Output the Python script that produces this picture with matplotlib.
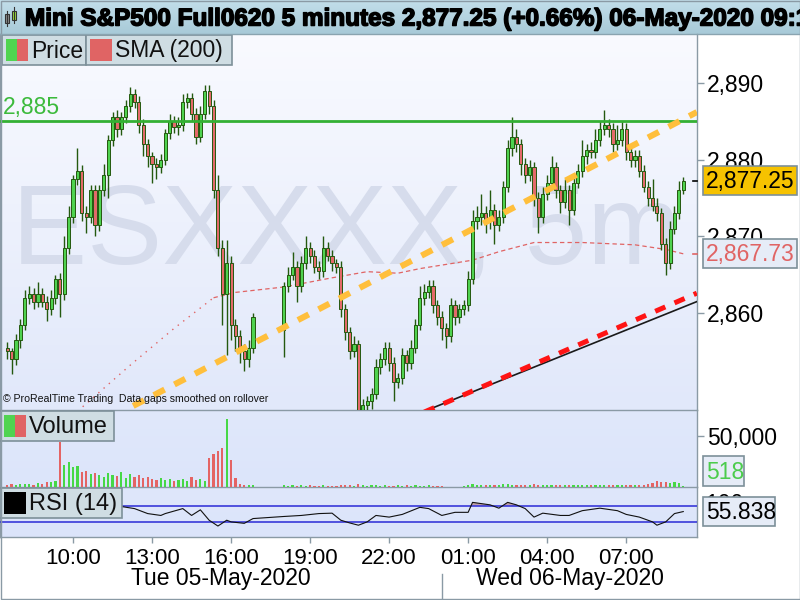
import matplotlib

matplotlib.use("Agg")
import matplotlib.colors as mcolors
import matplotlib.patches as mpatches
import matplotlib.patheffects as pe
import matplotlib.pyplot as plt
import numpy as np

plt.rcParams["font.family"] = ["Liberation Sans", "DejaVu Sans"]

W, H = 800, 600
nan = float("nan")

# ── 10-minute bars, Tue 05-May 07:30 -> Wed 06-May 09:10 (one-hour data hole after 17:00) ──
BAR_START_H = 7.5
BAR_MIN = 10

closes = [
    2855.0, 2854.0, 2856.5, 2858.5, 2862.0, 2862.5, 2861.5, 2862.5, 2861.5, 2860.5,
    2862.0, 2864.5, 2862.5, 2868.5, 2872.5, 2877.5, 2878.5, 2873.0, 2872.5, 2876.0,
    2871.5, 2876.0, 2878.0, 2882.5, 2885.5, 2884.0, 2885.5, 2887.0, 2888.5, 2887.5,
    2884.5, 2882.0, 2880.5, 2879.5, 2879.0, 2880.0, 2883.5, 2885.0, 2884.25, 2884.5,
    2887.5, 2888.0, 2886.0, 2883.0, 2886.0, 2889.0, 2887.0, 2876.0, 2868.5, 2862.5,
    2866.5, 2858.5, 2857.0, 2855.0, 2854.0, 2855.5, 2859.5, nan, nan, nan,
    nan, nan, nan, 2863.5, 2865.0, 2866.0, 2863.5, 2866.5, 2868.5, 2867.5,
    2866.0, 2865.5, 2868.5, 2867.5, 2866.5, 2866.0, 2860.5, 2857.5, 2855.0, 2856.0,
    2846.5, 2848.0, 2848.5, 2849.5, 2853.0, 2854.0, 2855.5, 2853.5, 2851.0, 2851.5,
    2854.5, 2853.5, 2855.5, 2858.5, 2862.0, 2862.75, 2863.5, 2861.0, 2859.5, 2858.0,
    2857.0, 2861.0, 2859.5, 2860.5, 2861.0, 2864.5, 2872.0, 2872.5, 2873.0, 2872.0,
    2873.5, 2871.5, 2872.5, 2876.5, 2881.5, 2883.0, 2882.0, 2879.5, 2878.0, 2879.0,
    2875.0, 2872.5, 2875.5, 2877.0, 2879.0, 2876.0, 2874.5, 2876.0, 2873.5, 2877.0,
    2878.5, 2880.5, 2881.25, 2881.0, 2882.5, 2884.0, 2884.5, 2884.0, 2882.0, 2882.5,
    2884.0, 2881.0, 2880.0, 2880.5, 2878.5, 2876.5, 2875.0, 2874.0, 2873.0, 2869.0,
    2866.5, 2871.0, 2873.0, 2876.0, 2877.25,
]
first_open = 2855.5
gap_open = 2857.75

wick_up = [
    0.75, 0.5, 0.75, 0.75, 1.0, 1.0, 0.75, 1.5, 0.75, 0.75,
    1.0, 0.5, 0.75, 1.5, 1.5, 0.5, 3.0, 0.75, 1.0, 0.75,
    0.75, 0.75, 1.5, 0.75, 0.75, 1.0, 0.75, 0.75, 1.0, 0.75,
    0.75, 0.75, 0.75, 0.5, 0.75, 0.75, 0.5, 1.0, 0.75, 1.0,
    1.0, 0.75, 0.75, 0.75, 1.0, 0.75, 0.75, 0.75, 2.0, 1.0,
    3.0, 1.0, 0.75, 0.75, 1.0, 1.0, 0.5, 0, 0, 0,
    0, 0, 0, 0.5, 1.0, 2.0, 0.75, 1.0, 1.5, 0.75,
    0.75, 0.75, 1.5, 0.75, 0.75, 0.5, 0.75, 0.75, 0.75, 1.0,
    0.5, 0.75, 0.75, 0.75, 1.0, 0.75, 0.75, 0.75, 0.75, 0.75,
    1.0, 0.75, 1.0, 0.75, 1.5, 1.0, 0.75, 0.75, 0.75, 0.75,
    0.75, 1.0, 0.75, 0.75, 0.75, 1.0, 1.5, 1.5, 2.5, 1.0,
    2.5, 0.75, 1.0, 0.75, 1.0, 2.5, 1.0, 0.75, 0.75, 1.0,
    0.75, 0.75, 1.0, 1.0, 1.5, 0.75, 0.75, 1.5, 0.75, 1.0,
    1.0, 2.0, 0.75, 1.0, 1.5, 1.0, 2.0, 0.75, 0.75, 2.0,
    1.0, 0.75, 0.75, 0.75, 0.75, 0.75, 0.75, 2.5, 1.0, 0.75,
    0.75, 1.0, 1.0, 1.25, 0.5,
]
wick_dn = [
    1.0, 2.0, 0.75, 1.0, 0.75, 0.75, 1.0, 0.75, 0.75, 1.5,
    0.75, 0.75, 3.0, 0.75, 0.75, 0.75, 0.75, 1.0, 2.0, 0.75,
    1.5, 0.75, 0.75, 3.0, 0.75, 1.0, 0.75, 0.75, 0.75, 0.75,
    1.0, 1.5, 1.5, 2.5, 1.5, 0.75, 0.75, 0.75, 0.75, 1.0,
    0.75, 0.75, 1.0, 1.0, 0.75, 0.75, 1.0, 1.0, 1.0, 4.0,
    8.0, 2.0, 2.0, 1.5, 1.5, 1.0, 0.75, 0, 0, 0,
    0, 0, 0, 3.5, 0.75, 0.75, 2.0, 0.75, 0.75, 1.0,
    0.75, 1.0, 0.75, 0.75, 1.0, 0.75, 1.0, 1.0, 1.0, 0.75,
    1.5, 1.0, 1.0, 1.0, 0.75, 1.0, 0.75, 1.0, 2.5, 0.75,
    0.75, 1.0, 0.75, 0.75, 0.75, 1.0, 0.75, 1.0, 1.0, 1.5,
    1.5, 0.75, 1.0, 0.75, 0.75, 0.75, 0.75, 1.0, 1.0, 1.5,
    1.0, 2.5, 0.75, 0.75, 0.75, 1.0, 1.0, 1.5, 1.0, 0.75,
    1.0, 2.0, 0.75, 0.75, 0.75, 1.0, 1.5, 0.75, 2.0, 0.75,
    0.75, 0.75, 1.0, 0.75, 0.75, 0.75, 0.75, 1.0, 1.0, 0.75,
    0.75, 1.0, 1.0, 1.0, 0.75, 0.75, 1.0, 0.75, 1.0, 0.75,
    1.5, 0.75, 0.75, 0.75, 0.5,
]

# volume in thousands of contracts
volume_k = [
    2, 3, 2, 2.5, 3, 3, 2, 4, 3, 5,
    5, 6, 44, 22, 25, 20, 21, 15, 16, 13,
    14, 12, 10, 14, 12, 11, 15, 9, 13, 10,
    12, 9, 10, 8, 7, 9, 7, 8, 6, 7,
    8, 6, 10, 7, 8, 6, 28, 32, 35, 38,
    67, 26, 9, 3, 2, 2, 2, nan, nan, nan,
    nan, nan, nan, 2, 1, 1.5, 1, 2, 1, 1.5,
    1, 1, 1.5, 1, 1, 1, 2, 1.5, 2, 1,
    2.5, 1.5, 1, 1.5, 2, 1, 1.5, 1, 1, 1.5,
    1, 1.5, 1, 1.5, 1, 1, 1.5, 1, 1, 1,
    0.3, 0.2, 0.3, 0.2, 0.5, 2, 2.5, 1.5, 2, 1.5,
    2, 1.5, 1.5, 2.5, 3, 2, 1.5, 2, 1.5, 2,
    2.5, 2, 1.5, 2, 1.5, 1.5, 2, 1.5, 2, 1.5,
    1.5, 2, 1.5, 1.5, 2, 1.5, 2, 1.5, 1.5, 2,
    1.5, 2, 1.5, 2, 1.5, 2, 2.5, 4, 6, 4.5,
    5, 4, 4.5, 3.5, 0.518,
]

# SMA(200) (bar index, value)
sma_bars = [16, 28, 38, 47, 52, 63, 74, 82, 89, 94, 106, 112, 120, 131, 143, 150, 154]
sma_vals = [2847.2, 2853.2, 2858.0, 2862.0, 2862.7, 2863.4, 2864.6, 2865.4, 2865.2,
            2865.8, 2866.9, 2868.0, 2869.2, 2869.2, 2868.9, 2868.3, 2867.73]
sma_dotted_until = 47

# RSI(14) (bar index, value)
rsi_bars = [26, 29, 32, 35, 36, 40, 42, 44, 46, 48, 50, 51, 54, 56, 63, 67, 71, 74, 76,
            78, 80, 82, 84, 87, 90, 94, 96, 99, 102, 105, 106, 110, 112, 114, 116, 118,
            120, 122, 126, 128, 131, 135, 139, 141, 144, 147, 148, 150, 152, 154]
rsi_vals = [68, 63, 51, 46.5, 51, 63, 46.5, 60, 35, 21, 35, 31, 27.5, 39, 44, 46.5, 51,
            52, 35, 28.5, 23, 31, 46.5, 42.5, 49, 66, 63, 46.5, 54, 54, 78, 72, 64, 78,
            72, 63, 42.5, 52, 46.5, 46.5, 58, 64, 58, 49, 42.5, 31, 23, 31, 51, 55.838]

# drawn trendlines: (bar index, price) pairs
resistance_level = 2885
orange_trend = [(28.7, 2847.9), (157.1, 2886.2)]
red_trend = [(95.0, 2847.1), (157.1, 2862.6)]
black_trend = [(95.0, 2847.2), (157.1, 2861.5)]

price_ticks = [2860, 2870, 2880, 2890]
tick_labels = ["10:00", "13:00", "16:00", "19:00", "22:00", "01:00", "04:00", "07:00"]
tick_hours = [10, 13, 16, 19, 22, 25, 28, 31]
day_labels = ["Tue 05-May-2020", "Wed 06-May-2020"]

last_price = 2877.25
last_volume = 518
title = "Mini S&P500 Full0620 5 minutes 2,877.25 (+0.66%) 06-May-2020 09:16"

# ── colours ──
UP, DOWN, EDGE = "#4fd24f", "#e36a6a", "#24590f"
GRID = "#8a9aa5"
BOX_FC, BOX_EC = "#cfdde3", "#7d9099"

XLIM = (-1.64, 157.13)
P_YLIM = (2847.37, 2896.38)
V_YLIM = (0, 75.5)
R_YLIM = (-5.4, 115)


def px_axes(fig, x0, y0, x1, y1, **kw):
    return fig.add_axes([x0 / W, 1 - y1 / H, (x1 - x0) / W, (y1 - y0) / H], **kw)


def gradient_bg(fig, rect, top, bottom):
    bg = px_axes(fig, *rect, zorder=-5)
    t = np.array(mcolors.to_rgb(top))
    b = np.array(mcolors.to_rgb(bottom))
    c = np.linspace(0, 1, 64)[:, None, None]
    bg.imshow(t + (b - t) * c, aspect="auto", extent=[0, 1, 0, 1], origin="upper")
    bg.axis("off")
    return bg


def style_panel(ax, ylim):
    ax.set_facecolor("none")
    ax.set_xlim(*XLIM)
    ax.set_ylim(*ylim)
    ax.set_xticks([])
    ax.yaxis.tick_right()
    ax.tick_params(axis="y", length=5, width=1, color=GRID, labelsize=16.5, pad=2)
    ax.spines["top"].set_visible(False)
    for s in ("left", "right", "bottom"):
        ax.spines[s].set_color(GRID)
        ax.spines[s].set_linewidth(1)


fig = plt.figure(figsize=(W / 100, H / 100), dpi=100)
fig.patch.set_facecolor("white")

# panels (pixel rectangles)
P_RECT = (0, 34, 697, 410)
V_RECT = (0, 410, 697, 487)
R_RECT = (0, 487, 697, 537)
gradient_bg(fig, P_RECT, "#f9faff", "#e1e8fa")
gradient_bg(fig, V_RECT, "#e0e8fb", "#dce5fa")
gradient_bg(fig, R_RECT, "#dfe7fb", "#dbe4fa")
gradient_bg(fig, (0, 0, 800, 34), "#c2deea", "#a8cad8")

ax_p = px_axes(fig, *P_RECT, zorder=1)
ax_v = px_axes(fig, *V_RECT, zorder=1)
ax_r = px_axes(fig, *R_RECT, zorder=1)
style_panel(ax_p, P_YLIM)
style_panel(ax_v, V_YLIM)
style_panel(ax_r, R_YLIM)

# ── price panel ──
ax_p.text(12 / 697, (410 - 263) / 376, "ESXXXX, 5m", transform=ax_p.transAxes,
          fontsize=81, color="#d6dcec", va="baseline", ha="left", zorder=0)

c = np.array(closes, dtype=float)
o = np.empty_like(c)
o[0] = first_open
for i in range(1, len(c)):
    o[i] = c[i - 1] if not np.isnan(c[i - 1]) else gap_open
hi = np.maximum(o, c) + np.array(wick_up)
lo = np.minimum(o, c) - np.array(wick_dn)
x = np.arange(len(c))
ok = ~np.isnan(c)
up = ok & (c >= o)
dn = ok & (c < o)

ax_p.vlines(x[ok], lo[ok], hi[ok], color=EDGE, lw=1.0, zorder=3)
for mask, col in ((up, UP), (dn, DOWN)):
    ax_p.bar(x[mask], np.maximum(np.abs(c[mask] - o[mask]), 0.12),
             bottom=np.minimum(o[mask], c[mask]), width=0.72, color=col,
             edgecolor=EDGE, linewidth=0.7, zorder=4)

ax_p.axhline(resistance_level, color="#34b034", lw=2, zorder=5)
ax_p.text(3 / 697, resistance_level + 0.25, f"{resistance_level:,}", color="#3cba3c",
          fontsize=16.5, va="bottom", ha="left", transform=ax_p.get_yaxis_transform(),
          zorder=6)

sb, sv = np.array(sma_bars), np.array(sma_vals)
m1 = sb <= sma_dotted_until
m2 = sb >= sma_dotted_until
ax_p.plot(sb[m1], sv[m1], color="#e06464", lw=1.0, ls=(0, (1, 4)), zorder=2)
ax_p.plot(sb[m2], sv[m2], color="#e06464", lw=0.9, ls=(0, (3.5, 2.5)), zorder=2)

ax_p.plot(*zip(*black_trend), color="#1a1a1a", lw=1.2, zorder=6)
ax_p.plot(*zip(*orange_trend), color="#ffbf3c", lw=4.4, ls=(0, (2.0, 1.8)),
          dash_capstyle="butt", zorder=6)
ax_p.plot(*zip(*red_trend), color="#ff1414", lw=3.6, ls=(0, (2.2, 2.0)),
          dash_capstyle="butt", zorder=7)

ax_p.set_yticks(price_ticks, labels=[f"{v:,}" for v in price_ticks])

ax_p.text(3 / 697, 6 / 376, "\u00a9 ProRealTime Trading  Data gaps smoothed on rollover",
          transform=ax_p.transAxes, fontsize=7.6, color="#111111", va="bottom",
          ha="left", zorder=8)

# ── volume panel ──
v = np.array(volume_k, dtype=float)
ax_v.bar(x[up], v[up], width=0.5, color="#46d846", linewidth=0, zorder=3)
ax_v.bar(x[dn], v[dn], width=0.5, color="#e46464", linewidth=0, zorder=3)
ax_v.set_yticks([50], labels=["50,000"])

# ── RSI panel ──
rb, rv = np.array(rsi_bars), np.array(rsi_vals, dtype=float)
ax_r.fill_between(rb, rv, 70, where=rv > 70, interpolate=True, color="#bfa0a8",
                  lw=0, zorder=2)
ax_r.axhline(70, color="#2a2ad6", lw=1.1, zorder=3)
ax_r.axhline(30, color="#2a2ad6", lw=1.1, zorder=3)
ax_r.plot(rb, rv, color="#111111", lw=0.8, zorder=4)
ax_r.set_yticks([])
ax_r.text(1.012, 100, "100", transform=ax_r.get_yaxis_transform(), fontsize=16.5,
          va="top", ha="left", clip_on=False)

pos = [(h - BAR_START_H) * 60 / BAR_MIN for h in tick_hours]
ax_r.set_xticks(pos, labels=tick_labels)
ax_r.tick_params(axis="x", length=4, width=1, color=GRID, labelsize=16, pad=4)

# ── overlay in pixel coordinates ──
ov = fig.add_axes([0, 0, 1, 1], zorder=10)
ov.set_xlim(0, W)
ov.set_ylim(H, 0)
ov.axis("off")
ov.patch.set_alpha(0)


def ypix(ax, val):
    return H - ax.transData.transform((0, val))[1]


def value_box(y0, y1, x1, text, fc, tc):
    ov.add_patch(mpatches.Rectangle((703, y0), x1 - 703, y1 - y0, facecolor=fc,
                                    edgecolor=BOX_EC, lw=1.2))
    ov.text(706, (y0 + y1) / 2 + 1, text, fontsize=16.5, color=tc, va="center", ha="left")


yc = ypix(ax_p, last_price)
value_box(yc - 14.5, yc + 14.5, 797, f"{last_price:,.2f}", "#f6c200", "black")
ov.plot([693, 697], [yc, yc], color="black", lw=1.2)
yc = ypix(ax_p, sma_vals[-1])
value_box(yc - 14.5, yc + 14.5, 797, f"{sma_vals[-1]:,.2f}", "#e6ecf7", "#e06464")
ov.plot([693, 697], [yc, yc], color="#e06464", lw=1.2)
yb = ypix(ax_v, last_volume / 1000)
value_box(yb - 30, yb, 744, f"{last_volume}", "#e6ecf7", "#4ccc4c")
yc = ypix(ax_r, rsi_vals[-1])
value_box(yc - 14.5, yc + 14.5, 775, f"{rsi_vals[-1]:.3f}", "#e6ecf7", "black")


def legend_box(x0, y0, x1, y1, label, swatch, size):
    ov.add_patch(mpatches.Rectangle((x0, y0), x1 - x0, y1 - y0, facecolor=BOX_FC,
                                    edgecolor=BOX_EC, lw=1.2))
    sw = 22
    top = (y0 + y1) / 2 - sw / 2
    step = sw / len(swatch)
    for k, col in enumerate(swatch):
        ov.add_patch(mpatches.Rectangle((x0 + 4 + k * step, top), step, sw, color=col, lw=0))
    ov.text(x0 + 29, (y0 + y1) / 2 + 1, label, fontsize=size, va="center", ha="left",
            color="#111111")


legend_box(2, 35, 86, 65, "Price", ("#50d450", "#e06464"), 16.5)
legend_box(86, 35, 232, 65, "SMA (200)", ("#e06464",), 16.5)
legend_box(0, 411, 114, 441, "Volume", ("#50d450", "#e06464"), 17)
legend_box(0, 488, 122, 518, "RSI (14)", ("black",), 17)

# title bar
ov.plot([0, W], [34, 34], color="#8aa4b0", lw=1)
ov.add_patch(mpatches.Rectangle((5, 14), 4, 9, facecolor="#8c8c8c", edgecolor="#333333", lw=0.8))
ov.plot([7, 7], [11, 26], color="#333333", lw=0.8)
ov.add_patch(mpatches.Rectangle((12, 11), 4, 9, facecolor="#9be03c", edgecolor="#333333", lw=0.8))
ov.plot([14, 14], [7, 23], color="#333333", lw=0.8)
ov.text(25, 19, title, fontsize=17.5, fontweight="bold", va="center", ha="left",
        color="black", path_effects=[pe.withStroke(linewidth=1.1, foreground="black")])

# date row
day_pos = [221, 570]
for dx, lab in zip(day_pos, day_labels):
    ov.text(dx, 579, lab, fontsize=16.5, ha="center", va="center", color="black")
sep = ax_r.transData.transform(((24 - BAR_START_H) * 60 / BAR_MIN, 0))[0]
ov.plot([sep, sep], [574, 598], color=GRID, lw=1)

# outer frame
ov.add_patch(mpatches.Rectangle((0.5, 0.5), W - 1, H - 1.5, fill=False, edgecolor=GRID, lw=1))

fig.savefig("out.png", dpi=100)
